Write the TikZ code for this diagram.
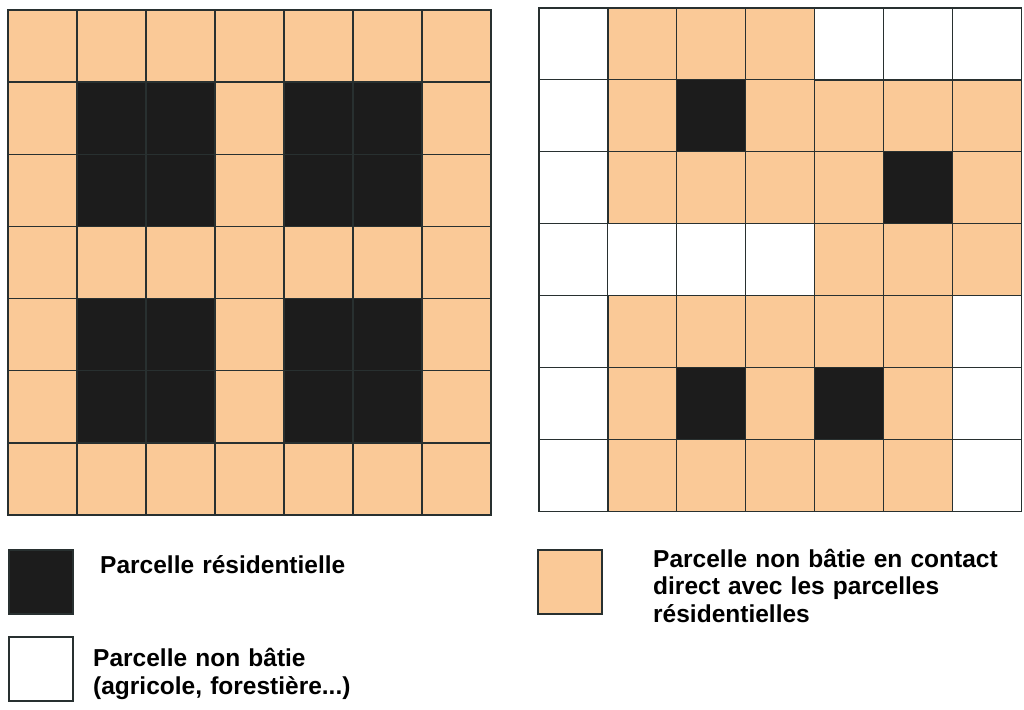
\documentclass[tikz,border=0pt]{standalone}
\usepackage{fontspec}
\setmainfont{Liberation Sans}
\definecolor{peach}{RGB}{250,201,151}
\definecolor{tar}{RGB}{28,28,28}
\definecolor{edge}{RGB}{40,48,48}
\tikzset{cell/.style={
    rectangle,
    draw=edge,
    line width=1.2pt,
    inner sep=0pt,
    outer sep=0pt,
    minimum width=69pt,
    minimum height=72pt
  },
  ocell/.style={cell,fill=peach},
  bcell/.style={cell,fill=tar},
  wcell/.style={cell,fill=white},
  keybox/.style={cell,anchor=north west,minimum width=64pt,minimum height=64pt},
  keytext/.style={anchor=base west,inner sep=0pt,text width=360pt,align=left,
    font=\fontsize{24.5}{27.5}\selectfont\bfseries},
}
\begin{document}
\begin{tikzpicture}[x=1pt,y=-1pt]
  \useasboundingbox (0,0) rectangle (1024,709);
  % left map
  \foreach \r in {1,...,7}
    \foreach \c in {1,...,7}
      \node [ocell] (left-\r-\c) at ({8+69*(\c-0.5)},{10+72.14*(\r-0.5)}) {};
  \foreach \r/\c in {2/2,2/3,3/2,3/3,2/5,2/6,3/5,3/6,5/2,5/3,6/2,6/3,5/5,5/6,6/5,6/6}
    \node [bcell] (left-\r-\c) at ({8+69*(\c-0.5)},{10+72.14*(\r-0.5)}) {};
  % right map
  \foreach \r in {1,...,7}
    \foreach \c in {1,...,7}
      \node [ocell] (right-\r-\c) at ({539+68.9*(\c-0.5)},{8+71.9*(\r-0.5)}) {};
  \foreach \r/\c in {1/1,2/1,3/1,4/1,5/1,6/1,7/1,1/5,1/6,1/7,4/2,4/3,4/4,5/7,6/7,7/7}
    \node [wcell] (right-\r-\c) at ({539+68.9*(\c-0.5)},{8+71.9*(\r-0.5)}) {};
  \foreach \r/\c in {2/3,3/6,6/3,6/5}
    \node [bcell] (right-\r-\c) at ({539+68.9*(\c-0.5)},{8+71.9*(\r-0.5)}) {};
  % legend
  \node [keybox,fill=tar] (key-res) at (9,550) {};
  \node [keytext] (txt-res) at (100,573) {Parcelle résidentielle};
  \node [keybox,fill=white] (key-free) at (9,637) {};
  \node [keytext] (txt-free) at (93,666.5) {Parcelle non bâtie\\(agricole, forestière...)};
  \node [keybox,fill=peach] (key-near) at (538,550) {};
  \node [keytext] (txt-near) at (653,567) {Parcelle non bâtie en contact\\direct avec les parcelles\\résidentielles};
\end{tikzpicture}
\end{document}
